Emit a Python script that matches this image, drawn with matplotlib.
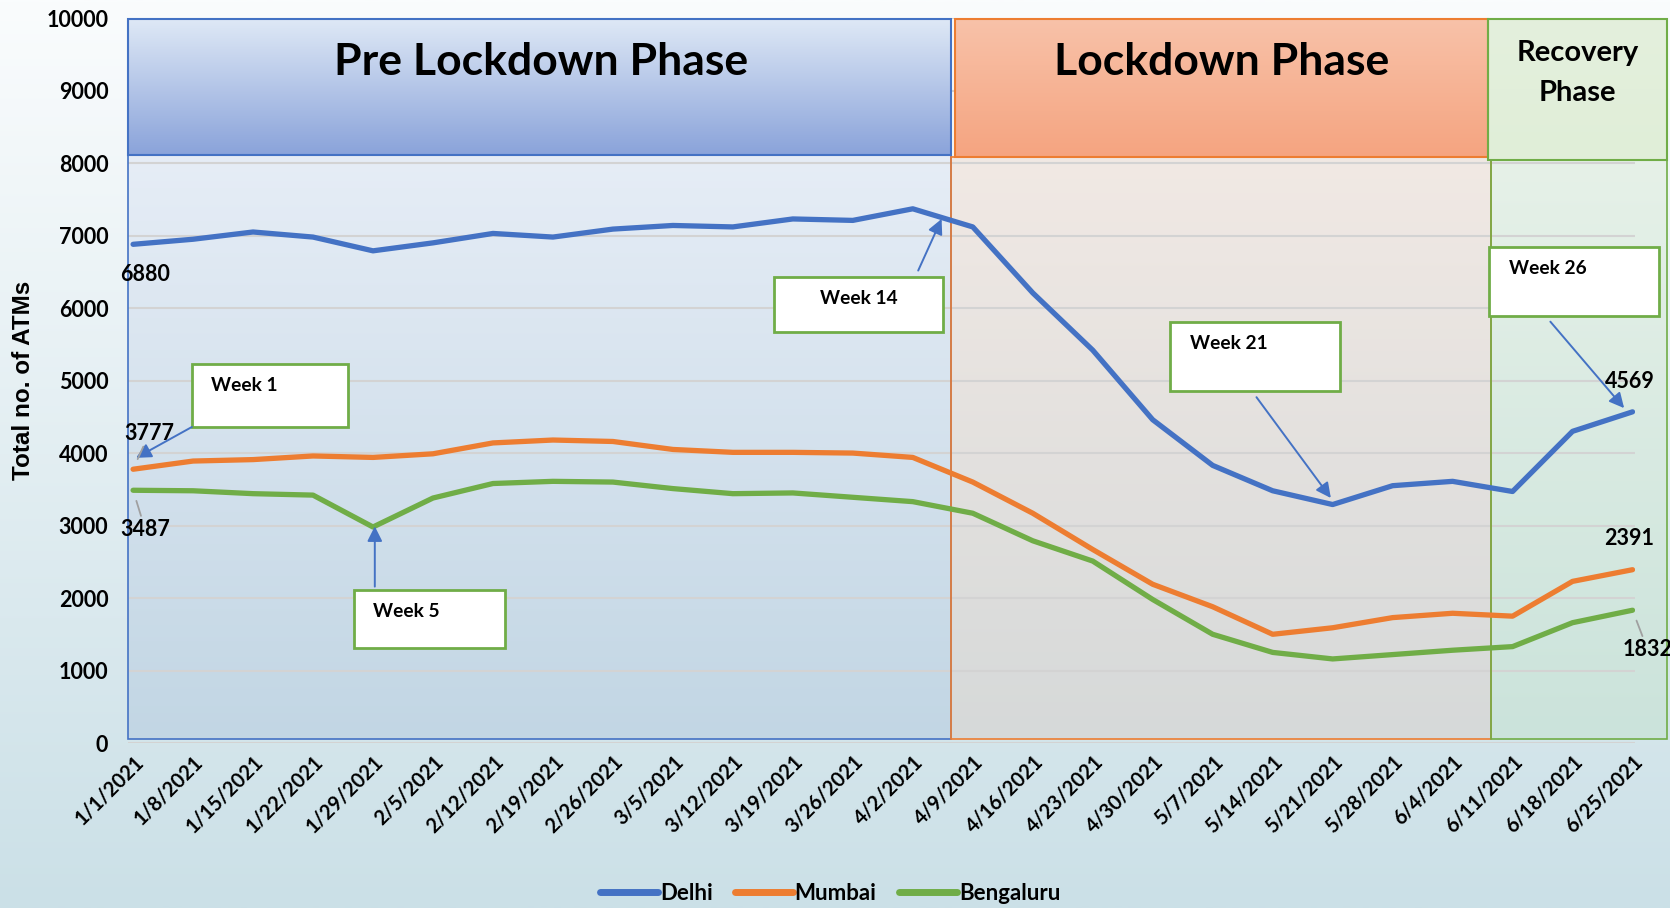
"""
ATM counts per city through the 2021 lockdown phases.
"""
import matplotlib
matplotlib.use("Agg")
import matplotlib.pyplot as plt
from matplotlib.patches import Rectangle
from matplotlib.colors import to_rgb
from matplotlib.lines import Line2D
import numpy as np

plt.rcParams["font.family"] = ["Lato", "DejaVu Sans"]

weeks = ["1/1/2021", "1/8/2021", "1/15/2021", "1/22/2021", "1/29/2021", "2/5/2021",
         "2/12/2021", "2/19/2021", "2/26/2021", "3/5/2021", "3/12/2021", "3/19/2021",
         "3/26/2021", "4/2/2021", "4/9/2021", "4/16/2021", "4/23/2021", "4/30/2021",
         "5/7/2021", "5/14/2021", "5/21/2021", "5/28/2021", "6/4/2021", "6/11/2021",
         "6/18/2021", "6/25/2021"]

delhi = [6880, 6950, 7050, 6980, 6790, 6900, 7030, 6980, 7090, 7140, 7120, 7230, 7210,
         7370, 7120, 6210, 5420, 4460, 3830, 3480, 3290, 3550, 3610, 3470, 4300, 4569]
mumbai = [3777, 3890, 3910, 3960, 3940, 3990, 4140, 4180, 4160, 4050, 4010, 4010, 4000,
          3940, 3600, 3170, 2670, 2190, 1880, 1500, 1590, 1730, 1790, 1750, 2230, 2391]
bengaluru = [3487, 3480, 3440, 3420, 2980, 3380, 3580, 3610, 3600, 3510, 3440, 3450, 3390,
             3330, 3170, 2790, 2510, 1980, 1500, 1250, 1160, 1220, 1280, 1330, 1660, 1832]

BLUE, ORANGE, GREEN = "#4472c4", "#ed7d31", "#70ad47"


def gradient(ax, extent, top, bottom, zorder, alpha=1.0):
    t = np.linspace(0, 1, 256)[:, None, None]
    c = (1 - t) * np.array(to_rgb(top)) + t * np.array(to_rgb(bottom))
    im = ax.imshow(c, extent=extent, aspect="auto", origin="upper",
                   zorder=zorder, alpha=alpha, interpolation="bilinear")
    im.set_clip_on(False)


fig = plt.figure(figsize=(16.7, 9.08), dpi=100)

# background
bg = fig.add_axes([0, 0, 1, 1], zorder=-10)
gradient(bg, (0, 1, 0, 1), "#fafcfd", "#cbe0e7", 0)
bg.set_xlim(0, 1)
bg.set_ylim(0, 1)
bg.axis("off")

ax = fig.add_axes([0.0765, 0.1817, 0.9025, 0.7983])
ax.set_facecolor("none")
x = np.arange(len(weeks))

# phase regions
phases = [
    # (x0, x1, header_y0, body_x0, body_x1, header colours, body colours, edge)
    (-0.089, 13.64, 8106, -0.089, 13.64, ("#dfe9f6", "#8aa3da"), ("#e6edf6", "#c2d6e4"), BLUE),
    (13.71, 22.59, 8091, 13.64, 22.64, ("#f8c2a9", "#f5a480"), ("#f1e9e4", "#d6d9d9"), ORANGE),
    (22.59, 25.57, 8047, 22.64, 25.57, ("#e4f0dd", "#e0eed8"), ("#e6f1e8", "#cbe3db"), GREEN),
]
for hx0, hx1, hy0, bx0, bx1, hcol, bcol, edge in phases:
    gradient(ax, (bx0, bx1, 50, hy0), bcol[0], bcol[1], 0.5)
    ax.add_patch(Rectangle((bx0, 50), bx1 - bx0, hy0 - 50, fill=False, ec=edge,
                           lw=1.2, zorder=0.6, clip_on=False))
    gradient(ax, (hx0, hx1, hy0, 9985), hcol[0], hcol[1], 0.7)
    ax.add_patch(Rectangle((hx0, hy0), hx1 - hx0, 9985 - hy0, fill=False, ec=edge,
                           lw=1.5, zorder=0.8, clip_on=False))

ax.text(6.8, 9390, "Pre Lockdown Phase", ha="center", va="center", fontsize=32,
        fontweight="bold", zorder=3)
ax.text(18.15, 9390, "Lockdown Phase", ha="center", va="center", fontsize=32,
        fontweight="bold", zorder=3)
ax.text(24.08, 9240, "Recovery\nPhase", ha="center", va="center", fontsize=21,
        fontweight="bold", zorder=3, linespacing=1.65)

for v in range(0, 10001, 1000):
    ax.axhline(v, color="#d3d3d3", lw=1.5, zorder=0.55)

ax.plot(x, delhi, color=BLUE, lw=3.8, zorder=4, solid_capstyle="round")
ax.plot(x, mumbai, color=ORANGE, lw=3.8, zorder=4, solid_capstyle="round")
ax.plot(x, bengaluru, color=GREEN, lw=3.8, zorder=4, solid_capstyle="round")

# callout boxes: label, box, text x offset, arrow tail, arrow head
callouts = [
    ("Week 1", (0.98, 4360, 3.59, 5226), 0.32, (0.98, 4360), (0.05, 3934)),
    ("Week 5", (3.68, 1306, 6.20, 2114), 0.32, (4.03, 2158), (4.03, 2990)),
    ("Week 14", (10.69, 5666, 13.51, 6430), 0.76, (13.09, 6518), (13.48, 7230)),
    ("Week 21", (17.29, 4859, 20.13, 5813), 0.34, (18.73, 4771), (19.97, 3380)),
    ("Week 26", (22.60, 5887, 25.44, 6841), 0.34, (23.63, 5813), (24.86, 4620)),
]
for label, (bx0, by0, bx1, by1), dx, tail, head in callouts:
    ax.add_patch(Rectangle((bx0, by0), bx1 - bx0, by1 - by0, fc="white", ec=GREEN,
                           lw=2, zorder=5, clip_on=False))
    ax.text(bx0 + dx, by1 - 300, label, ha="left", va="center", fontsize=13.8,
            fontweight="bold", zorder=6)
    ax.annotate("", xy=head, xytext=tail, zorder=6, annotation_clip=False,
                arrowprops=dict(arrowstyle="-|>,head_length=0.9,head_width=0.45",
                                color=BLUE, lw=1.4, shrinkA=0, shrinkB=0))

# data labels
lab = dict(fontsize=15.5, fontweight="bold", ha="center", va="center", zorder=6,
           annotation_clip=False)
gray = dict(arrowstyle="-", color="#a0a0a0", lw=1.3, shrinkA=0, shrinkB=8)
ax.annotate(f"{delhi[0]}", xy=(0, delhi[0]), xytext=(0.2, 6459), **lab)
ax.annotate(f"{mumbai[0]}", xy=(0, mumbai[0]), xytext=(0.27, 4272),
            arrowprops=gray, **lab)
ax.annotate(f"{bengaluru[0]}", xy=(0, bengaluru[0]), xytext=(0.2, 2951),
            arrowprops=gray, **lab)
ax.annotate(f"{delhi[-1]}", xy=(25, delhi[-1]), xytext=(24.95, 4991), **lab)
ax.annotate(f"{mumbai[-1]}", xy=(25, mumbai[-1]), xytext=(24.95, 2819), **lab)
ax.annotate(f"{bengaluru[-1]}", xy=(25, bengaluru[-1]), xytext=(25.25, 1292),
            arrowprops=gray, **lab)

ax.set_xlim(-0.089, 25.04)
ax.set_ylim(0, 10000)
ax.set_yticks(range(0, 10001, 1000))
ax.set_xticks(x)
ax.set_xticklabels(weeks, rotation=45, ha="right", rotation_mode="anchor",
                   fontsize=14.5, fontweight="bold")
for t in ax.get_yticklabels():
    t.set_fontweight("bold")
    t.set_fontsize(15.5)
ax.tick_params(axis="both", length=0)
ax.tick_params(axis="y", pad=14)
ax.tick_params(axis="x", pad=6)
for s in ax.spines.values():
    s.set_visible(False)
ax.set_ylabel("Total no. of ATMs", fontsize=17.5, fontweight="bold", labelpad=8,
              family=["Liberation Sans", "DejaVu Sans"])

handles = [Line2D([], [], color=c, lw=5, solid_capstyle="round") for c in (BLUE, ORANGE, GREEN)]
fig.legend(handles, ["Delhi", "Mumbai", "Bengaluru"], loc="center", ncol=3,
           bbox_to_anchor=(0.497, 0.016), frameon=False, handlelength=2.6,
           columnspacing=1.0, handletextpad=0.1,
           prop=dict(weight="bold", size=16))

fig.savefig("out.png", dpi=100)
